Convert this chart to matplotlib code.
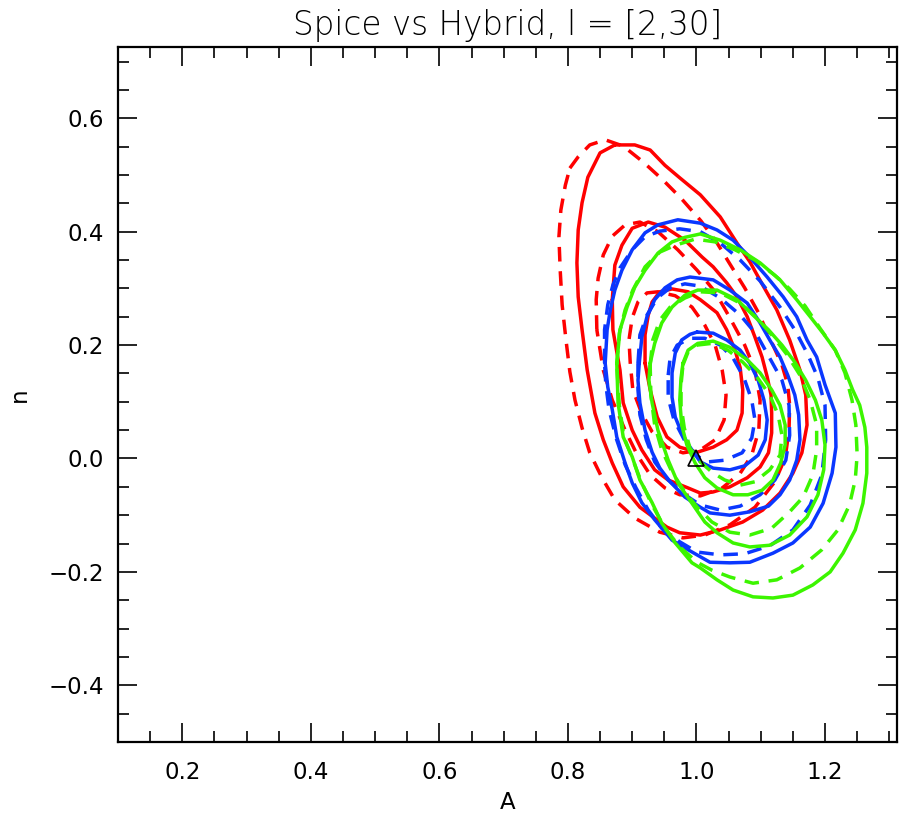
import matplotlib
matplotlib.use("Agg")
import matplotlib.pyplot as plt
from matplotlib.ticker import MultipleLocator, FuncFormatter

# ---------------- data: contour paths (A, n) ----------------
red_solid_1 = [(0.873,0.553),(0.904,0.553),(0.928,0.544),(0.951,0.517),(0.974,0.495),(1.006,0.465),
    (1.037,0.426),(1.063,0.380),(1.083,0.347),(1.103,0.306),(1.125,0.262),(1.145,0.209),(1.161,0.156),
    (1.170,0.112),(1.172,0.059),(1.164,0.010),(1.150,-0.026),(1.130,-0.061),(1.103,-0.091),(1.072,-0.112),
    (1.037,-0.126),(1.006,-0.135),(0.974,-0.131),(0.954,-0.121),(0.912,-0.086),(0.886,-0.050),(0.869,-0.008),
    (0.855,0.033),(0.842,0.080),(0.830,0.156),(0.822,0.227),(0.816,0.285),(0.814,0.345),(0.816,0.403),
    (0.822,0.451),(0.831,0.496),(0.850,0.539)]
red_dash_1 = [(0.803,0.512),(0.816,0.532),(0.834,0.553),(0.858,0.562),(0.886,0.551),(0.917,0.523),
    (0.948,0.491),(0.976,0.459),(1.007,0.419),(1.032,0.380),(1.052,0.343),(1.075,0.301),(1.096,0.258),
    (1.117,0.205),(1.133,0.165),(1.142,0.130),(1.145,0.094),(1.144,0.050),(1.138,0.001),(1.122,-0.041),
    (1.091,-0.086),(1.052,-0.117),(1.013,-0.135),(0.979,-0.140),(0.943,-0.130),(0.904,-0.105),(0.873,-0.073),
    (0.853,-0.034),(0.834,0.010),(0.822,0.054),(0.811,0.103),(0.803,0.153),(0.797,0.209),(0.791,0.271),
    (0.788,0.332),(0.786,0.391),(0.789,0.438),(0.796,0.482)]
red_solid_2 = [(0.869,0.280),(0.873,0.341),(0.884,0.376),(0.900,0.406),(0.925,0.417),(0.951,0.408),
    (0.982,0.385),(1.009,0.355),(1.026,0.338),(1.047,0.310),(1.063,0.285),(1.079,0.250),(1.091,0.214),
    (1.102,0.179),(1.110,0.144),(1.116,0.112),(1.117,0.080),(1.117,0.045),(1.112,0.010),(1.099,-0.015),
    (1.079,-0.034),(1.052,-0.050),(1.026,-0.059),(1.006,-0.061),(0.987,-0.052),(0.956,-0.038),(0.935,-0.020),
    (0.915,0.015),(0.900,0.050),(0.886,0.098),(0.881,0.156),(0.870,0.227)]
red_dash_2 = [(0.845,0.227),(0.844,0.280),(0.847,0.318),(0.855,0.359),(0.869,0.392),(0.889,0.412),
    (0.912,0.417),(0.940,0.400),(0.971,0.368),(1.001,0.332),(1.029,0.294),(1.052,0.248),(1.075,0.200),
    (1.091,0.156),(1.099,0.103),(1.097,0.050),(1.086,0.006),(1.068,-0.026),(1.040,-0.052),(1.006,-0.066),
    (0.974,-0.064),(0.951,-0.052),(0.928,-0.029),(0.908,0.006),(0.889,0.050),(0.869,0.103),(0.855,0.156)]
red_solid_3 = [(0.920,0.168),(0.920,0.218),(0.925,0.253),(0.931,0.276),(0.943,0.294),(0.962,0.299),
    (0.987,0.294),(1.006,0.280),(1.032,0.257),(1.047,0.227),(1.060,0.191),(1.068,0.160),(1.072,0.121),
    (1.071,0.080),(1.063,0.050),(1.047,0.033),(1.026,0.020),(1.001,0.011),(0.974,0.020),(0.954,0.038),
    (0.939,0.073),(0.928,0.121)]
red_dash_3 = [(0.897,0.168),(0.895,0.209),(0.900,0.248),(0.909,0.276),(0.923,0.292),(0.940,0.294),
    (0.967,0.287),(0.993,0.267),(1.013,0.235),(1.029,0.200),(1.040,0.156),(1.046,0.112),(1.043,0.068),
    (1.029,0.033),(1.006,0.015),(0.979,0.010),(0.954,0.020),(0.931,0.047),(0.914,0.082),(0.901,0.121)]

blue_solid_1 = [(0.858,0.168),(0.861,0.227),(0.866,0.262),(0.873,0.297),(0.884,0.332),(0.900,0.368),
    (0.920,0.398),(0.940,0.412),(0.971,0.421),(1.006,0.415),(1.032,0.403),(1.057,0.385),(1.083,0.355),
    (1.110,0.320),(1.135,0.285),(1.156,0.250),(1.172,0.209),(1.187,0.179),(1.200,0.130),(1.216,0.080),
    (1.217,0.020),(1.211,-0.026),(1.197,-0.079),(1.177,-0.121),(1.150,-0.149),(1.119,-0.167),(1.083,-0.183),
    (1.052,-0.184),(1.021,-0.183),(0.987,-0.161),(0.962,-0.144),(0.935,-0.108),(0.915,-0.078),(0.900,-0.043),
    (0.889,-0.008),(0.876,0.038),(0.869,0.086),(0.862,0.126)]
blue_dash_1 = [(0.857,0.168),(0.857,0.227),(0.862,0.271),(0.870,0.306),(0.881,0.336),(0.900,0.368),
    (0.920,0.391),(0.943,0.401),(0.974,0.405),(1.006,0.400),(1.037,0.380),(1.068,0.350),(1.099,0.313),
    (1.130,0.267),(1.153,0.227),(1.173,0.184),(1.189,0.142),(1.200,0.094),(1.201,0.033),(1.195,-0.029),
    (1.177,-0.082),(1.150,-0.126),(1.114,-0.154),(1.075,-0.168),(1.037,-0.170),(1.001,-0.165),(0.974,-0.147),
    (0.946,-0.123),(0.925,-0.091),(0.906,-0.052),(0.889,-0.011),(0.875,0.036),(0.864,0.086),(0.859,0.130)]
blue_solid_2 = [(0.911,0.168),(0.915,0.214),(0.923,0.250),(0.935,0.280),(0.951,0.301),(0.970,0.315),
    (0.990,0.320),(1.026,0.315),(1.052,0.297),(1.079,0.274),(1.099,0.239),(1.114,0.209),(1.130,0.179),
    (1.142,0.147),(1.153,0.112),(1.159,0.077),(1.161,0.033),(1.156,-0.003),(1.145,-0.038),(1.130,-0.064),
    (1.112,-0.084),(1.083,-0.094),(1.052,-0.100),(1.021,-0.096),(1.006,-0.086),(0.982,-0.068),(0.959,-0.041),
    (0.943,-0.017),(0.931,0.011),(0.920,0.050),(0.912,0.098),(0.909,0.138)]
blue_dash_2 = [(0.909,0.168),(0.912,0.218),(0.923,0.253),(0.939,0.283),(0.959,0.301),(0.982,0.308),
    (1.006,0.304),(1.037,0.283),(1.068,0.253),(1.094,0.218),(1.114,0.177),(1.133,0.138),(1.144,0.094),
    (1.145,0.041),(1.139,-0.003),(1.122,-0.038),(1.099,-0.064),(1.068,-0.084),(1.037,-0.091),(1.006,-0.082),
    (0.982,-0.064),(0.956,-0.038),(0.935,-0.006),(0.922,0.033),(0.912,0.077),(0.909,0.121)]
blue_solid_3 = [(1.001,0.223),(1.026,0.221),(1.047,0.209),(1.068,0.191),(1.083,0.168),(1.096,0.138),
    (1.105,0.103),(1.110,0.068),(1.107,0.033),(1.096,0.006),(1.075,-0.013),(1.052,-0.020),(1.026,-0.017),
    (1.006,-0.006),(0.990,0.020),(0.977,0.045),(0.967,0.073),(0.962,0.108),(0.962,0.151),(0.967,0.186),
    (0.977,0.209),(0.990,0.219)]
blue_dash_3 = [(0.956,0.147),(0.959,0.177),(0.970,0.200),(0.990,0.212),(1.013,0.212),(1.037,0.200),
    (1.057,0.177),(1.074,0.142),(1.086,0.103),(1.091,0.068),(1.086,0.036),(1.071,0.010),(1.044,-0.003),
    (1.018,-0.006),(0.998,0.006),(0.981,0.033),(0.965,0.068),(0.956,0.107)]

green_solid_1 = [(0.876,0.168),(0.881,0.227),(0.892,0.267),(0.904,0.302),(0.920,0.332),(0.940,0.362),
    (0.962,0.382),(0.982,0.390),(1.006,0.396),(1.037,0.385),(1.068,0.368),(1.099,0.345),(1.130,0.315),
    (1.156,0.280),(1.177,0.250),(1.197,0.221),(1.216,0.191),(1.231,0.156),(1.243,0.121),(1.254,0.094),
    (1.262,0.055),(1.265,0.020),(1.265,-0.026),(1.259,-0.079),(1.247,-0.126),(1.228,-0.167),(1.208,-0.200),
    (1.181,-0.223),(1.150,-0.241),(1.119,-0.246),(1.088,-0.244),(1.057,-0.232),(1.032,-0.214),(1.006,-0.193),
    (0.993,-0.184),(0.967,-0.149),(0.946,-0.114),(0.931,-0.078),(0.912,-0.038),(0.900,0.003),(0.886,0.038),
    (0.878,0.098)]
green_dash_1 = [(0.876,0.165),(0.880,0.221),(0.889,0.262),(0.901,0.297),(0.920,0.338),(0.943,0.364),
    (0.967,0.376),(0.998,0.387),(1.029,0.382),(1.060,0.368),(1.091,0.350),(1.122,0.323),(1.145,0.299),
    (1.169,0.269),(1.192,0.230),(1.216,0.191),(1.231,0.151),(1.242,0.103),(1.248,0.059),(1.250,0.006),
    (1.247,-0.038),(1.238,-0.082),(1.220,-0.126),(1.195,-0.161),(1.161,-0.193),(1.125,-0.214),(1.088,-0.220),
    (1.052,-0.209),(1.024,-0.197),(1.001,-0.183),(0.974,-0.156),(0.951,-0.123),(0.931,-0.082),(0.914,-0.041),
    (0.900,0.001),(0.887,0.038),(0.880,0.094)]
green_solid_2 = [(0.928,0.168),(0.935,0.203),(0.946,0.239),(0.962,0.267),(0.982,0.288),(1.002,0.297),
    (1.032,0.297),(1.063,0.280),(1.088,0.253),(1.112,0.227),(1.133,0.200),(1.153,0.170),(1.170,0.138),
    (1.185,0.103),(1.195,0.068),(1.200,0.024),(1.198,-0.020),(1.189,-0.064),(1.172,-0.103),(1.145,-0.135),
    (1.114,-0.153),(1.083,-0.156),(1.057,-0.149),(1.032,-0.131),(1.013,-0.112),(0.993,-0.079),(0.971,-0.043),
    (0.956,-0.003),(0.940,0.050),(0.931,0.098),(0.926,0.138)]
green_dash_2 = [(0.928,0.165),(0.932,0.209),(0.943,0.244),(0.959,0.267),(0.982,0.283),(1.006,0.294),
    (1.037,0.292),(1.068,0.274),(1.094,0.248),(1.117,0.218),(1.141,0.183),(1.161,0.147),(1.177,0.103),
    (1.187,0.059),(1.187,0.015),(1.181,-0.029),(1.166,-0.068),(1.145,-0.094),(1.117,-0.123),(1.083,-0.135),
    (1.052,-0.130),(1.024,-0.112),(1.002,-0.087),(0.982,-0.059),(0.962,-0.024),(0.946,0.015),(0.935,0.059),
    (0.929,0.112)]
green_solid_3 = [(0.979,0.168),(0.987,0.191),(1.002,0.203),(1.026,0.207),(1.052,0.196),(1.079,0.174),
    (1.099,0.151),(1.117,0.121),(1.130,0.094),(1.138,0.059),(1.138,0.024),(1.131,-0.008),(1.119,-0.038),
    (1.102,-0.056),(1.080,-0.064),(1.057,-0.064),(1.032,-0.052),(1.013,-0.034),(0.998,-0.008),(0.985,0.024),
    (0.977,0.059),(0.974,0.103),(0.976,0.142)]
green_dash_3 = [(0.979,0.165),(0.987,0.188),(1.001,0.200),(1.024,0.203),(1.049,0.191),(1.072,0.170),
    (1.094,0.144),(1.114,0.112),(1.127,0.077),(1.133,0.041),(1.130,0.006),(1.114,-0.020),(1.091,-0.041),
    (1.068,-0.047),(1.044,-0.038),(1.024,-0.024),(1.006,-0.006),(0.990,0.018),(0.981,0.054),(0.976,0.094),
    (0.976,0.130)]

fiducial_A = [1.0]
fiducial_n = [0.0]

title = "Spice vs Hybrid, l = [2,30]"
xlabel = "A"
ylabel = "n"

RED = "#ff0000"
BLUE = "#0a37ff"
GREEN = "#3cf500"

curves = [
    (red_solid_1, RED, "-"), (red_solid_2, RED, "-"), (red_solid_3, RED, "-"),
    (red_dash_1, RED, "--"), (red_dash_2, RED, "--"), (red_dash_3, RED, "--"),
    (blue_solid_1, BLUE, "-"), (blue_solid_2, BLUE, "-"), (blue_solid_3, BLUE, "-"),
    (blue_dash_1, BLUE, "--"), (blue_dash_2, BLUE, "--"), (blue_dash_3, BLUE, "--"),
    (green_solid_1, GREEN, "-"), (green_solid_2, GREEN, "-"), (green_solid_3, GREEN, "-"),
    (green_dash_1, GREEN, "--"), (green_dash_2, GREEN, "--"), (green_dash_3, GREEN, "--"),
]

# ---------------- figure ----------------
plt.rcParams["font.family"] = ["DejaVu Sans"]
fig = plt.figure(figsize=(8.99, 8.17), dpi=100)
ax = fig.add_axes([118/899, 75/817, (897-118)/899, (742-47)/817])

for pts, col, ls in curves:
    xs = [p[0] for p in pts] + [pts[0][0]]
    ys = [p[1] for p in pts] + [pts[0][1]]
    line, = ax.plot(xs, ys, color=col, lw=2.5, solid_joinstyle="round",
                    solid_capstyle="round")
    if ls == "--":
        line.set_dashes((4.2, 2.8))

ax.plot(fiducial_A, fiducial_n, marker="^", ms=11, mfc="none", mec="black",
        mew=1.2, ls="none", zorder=5)

ax.set_xlim(0.1, 1.312)
ax.set_ylim(-0.5, 0.7257)

fmt = FuncFormatter(lambda v, p: ("%.1f" % v).replace("-", "\u2212"))
ax.xaxis.set_major_locator(MultipleLocator(0.2))
ax.xaxis.set_minor_locator(MultipleLocator(0.05))
ax.yaxis.set_major_locator(MultipleLocator(0.2))
ax.yaxis.set_minor_locator(MultipleLocator(0.05))
ax.xaxis.set_major_formatter(fmt)
ax.yaxis.set_major_formatter(fmt)

ax.tick_params(which="both", direction="in", top=True, right=True, width=1.2,
               labelsize=16.5, colors="black")
ax.tick_params(which="major", length=14)
ax.tick_params(which="minor", length=8)
ax.tick_params(axis="x", which="major", pad=14)
ax.tick_params(axis="y", which="major", pad=10)
for sp in ax.spines.values():
    sp.set_linewidth(1.6)

ax.set_title(title, fontsize=23.5, pad=9, fontweight="light")
ax.set_xlabel(xlabel, fontsize=16.5, labelpad=5)
ax.set_ylabel(ylabel, fontsize=16.5)
ax.yaxis.set_label_coords(-0.112, 0.5)

fig.savefig("out.png", dpi=100)
